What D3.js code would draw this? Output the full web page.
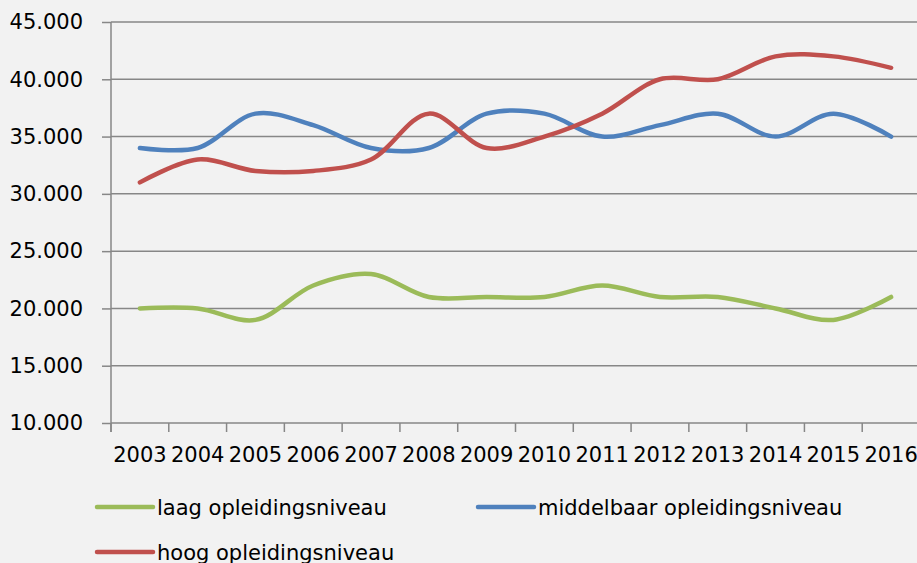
<!DOCTYPE html>
<html>
<head>
<meta charset="utf-8">
<script src="https://cdn.jsdelivr.net/npm/d3@7"></script>
<style>
  html, body { margin: 0; padding: 0; background: #f2f2f2; }
  svg { display: block; }
  text { font-family: "DejaVu Sans", sans-serif; fill: #000; }
</style>
</head>
<body>
<svg id="chart" width="917" height="563"></svg>
<script>
const years = ["2003","2004","2005","2006","2007","2008","2009","2010","2011","2012","2013","2014","2015","2016"];
const laag = [20000,20000,19000,22000,23000,21000,21000,21000,22000,21000,21000,20000,19000,21000];
const middelbaar = [34000,34000,37000,36000,34000,34000,37000,37000,35000,36000,37000,35000,37000,35000];
const hoog = [31000,33000,32000,32000,33000,37000,34000,35000,37000,40000,40000,42000,42000,41000];
const seriesNames = ["laag opleidingsniveau","middelbaar opleidingsniveau","hoog opleidingsniveau"];
const seriesColors = ["#9bbb59","#4f81bd","#c0504d"];
const yTicks = [10000,15000,20000,25000,30000,35000,40000,45000];

const series = [laag, middelbaar, hoog];

const svg = d3.select("#chart");
svg.append("rect").attr("width",917).attr("height",563).attr("fill","#f2f2f2");

const x = d3.scaleBand().domain(years).range([111, 920]).paddingInner(0).paddingOuter(0);
const y = d3.scaleLinear().domain([10000, 45000]).range([423, 22]);

const nl = d3.formatLocale({decimal: ",", thousands: ".", grouping: [3], currency: ["€", ""]});
const fmt = nl.format(",.0f");

const gridColor = "#878787";

// gridlines
svg.append("g").selectAll("line").data(yTicks.slice(1)).join("line")
  .attr("x1", 111).attr("x2", 917)
  .attr("y1", d => y(d)).attr("y2", d => y(d))
  .attr("stroke", gridColor).attr("stroke-width", 1.5);

// y axis
const yAxis = d3.axisLeft(y).tickValues(yTicks).tickFormat(fmt).tickSize(9).tickPadding(19);
const gy = svg.append("g").attr("transform", "translate(111,0)").call(yAxis);
gy.select(".domain").attr("stroke", gridColor).attr("stroke-width", 1.5).attr("d", `M0,${y(45000)}V${y(10000)+9}`);
gy.selectAll(".tick line").attr("stroke", gridColor).attr("stroke-width", 1.5);
gy.selectAll(".tick text").attr("font-size", 21).attr("font-family", "DejaVu Sans").attr("fill", "#000");

// x axis line
svg.append("line").attr("x1", 111).attr("x2", 917).attr("y1", y(10000)).attr("y2", y(10000))
  .attr("stroke", gridColor).attr("stroke-width", 1.5);
// x ticks at band boundaries
svg.append("g").selectAll("line").data(years).join("line")
  .attr("x1", d => x(d)).attr("x2", d => x(d))
  .attr("y1", y(10000)).attr("y2", y(10000) + 9)
  .attr("stroke", gridColor).attr("stroke-width", 1.5);
// x labels
svg.append("g").selectAll("text").data(years).join("text")
  .attr("x", d => x(d) + x.bandwidth() / 2)
  .attr("y", 462)
  .attr("text-anchor", "middle")
  .attr("font-size", 21)
  .text(d => d);

// lines
const line = d3.line()
  .x((d, i) => x(years[i]) + x.bandwidth() / 2)
  .y(d => y(d))
  .curve(d3.curveCatmullRom.alpha(0.5));

series.forEach((s, k) => {
  svg.append("path").datum(s)
    .attr("d", line)
    .attr("fill", "none")
    .attr("stroke", seriesColors[k])
    .attr("stroke-width", 4.5)
    .attr("stroke-linecap", "round")
    .attr("stroke-linejoin", "round");
});

// legend
const legendPos = [[97, 507], [478, 507], [97, 552]];
seriesNames.forEach((name, k) => {
  const [lx, ly] = legendPos[k];
  svg.append("line").attr("x1", lx).attr("x2", lx + 56).attr("y1", ly).attr("y2", ly)
    .attr("stroke", seriesColors[k]).attr("stroke-width", 4.5).attr("stroke-linecap", "round");
  svg.append("text").attr("x", lx + 60).attr("y", ly + 8).attr("font-size", 21).text(name);
});
</script>
</body>
</html>
